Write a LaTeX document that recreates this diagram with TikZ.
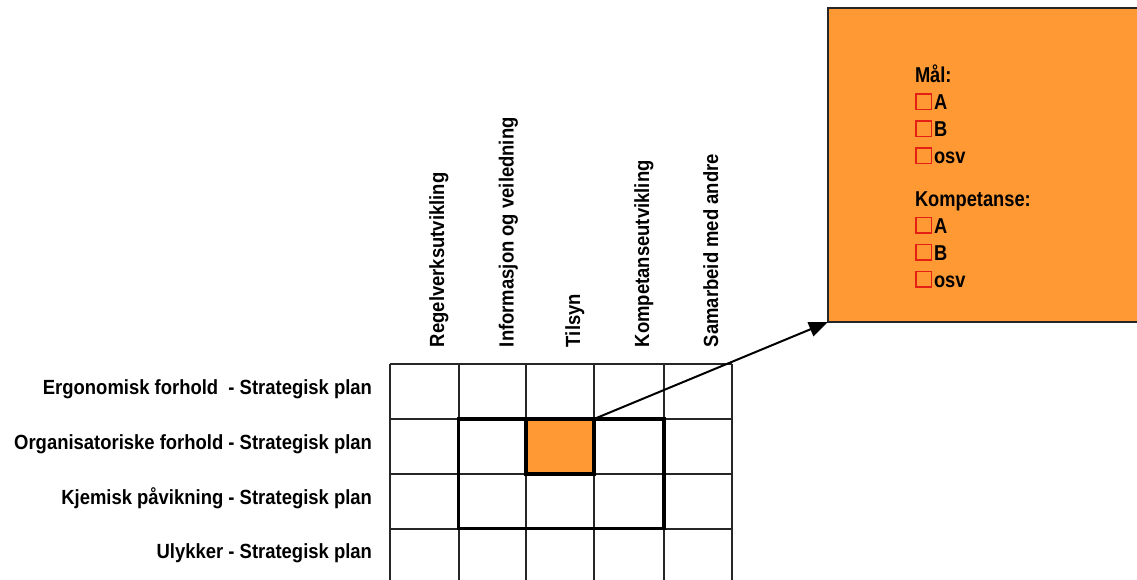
\documentclass[tikz,border=0pt]{standalone}
\usepackage{fontspec}
\setmainfont{Liberation Sans}[FakeStretch=0.9]
\newfontfamily\itemfont{Liberation Sans}[FakeStretch=0.85]
\usetikzlibrary{arrows.meta}
\definecolor{planorange}{RGB}{255,153,51}
\definecolor{tickred}{RGB}{228,32,20}

\begin{document}
\begin{tikzpicture}[x=1pt,y=-1pt,
  lbl/.style={font=\fontsize{20.5}{24}\selectfont\bfseries, inner sep=0pt, outer sep=0pt},
  rowlbl/.style={lbl, anchor=base east},
  collbl/.style={lbl, rotate=90, anchor=base west},
  itemlbl/.style={font=\itemfont\fontsize{21.5}{24}\selectfont\bfseries, inner sep=0pt, outer sep=0pt, anchor=base west},
  gridline/.style={line width=2pt, black!85},
  blockline/.style={line width=3.2pt, black},
  hicell/.style={draw=black, line width=3.2pt, fill=planorange, inner sep=0pt, outer sep=0pt,
                 minimum width=68pt, minimum height=55pt, anchor=north west},
  planbox/.style={draw=black!85, line width=1.8pt, fill=planorange, inner sep=0pt, outer sep=0pt,
                  minimum width=330pt, minimum height=314pt, anchor=north west},
  tickbox/.style={draw=tickred, line width=1.9pt, inner sep=0pt, outer sep=0pt,
                  minimum width=15.5pt, minimum height=15.5pt, anchor=south west},
  link/.style={line width=2pt, -{Triangle[length=19pt,width=15pt]}}
]
\useasboundingbox (0,0) rectangle (1137,579);
\clip (0,0) rectangle (1137,579);

% matrix grid
\foreach \x in {390,458.5,526,594,664,732}
  \draw[gridline] (\x,364) -- (\x,585);
\foreach \y in {364,419,474,528.5,583}
  \draw[gridline] (390,\y) -- (732,\y);

% emphasised block and highlighted cell
\draw[blockline] (458.5,419) rectangle (664,528.5);
\node[hicell] (cell) at (526,419) {};

% row labels
\node[rowlbl] (r1) at (372,394) {Ergonomisk forhold\ \ - Strategisk plan};
\node[rowlbl] (r2) at (372,449) {Organisatoriske forhold - Strategisk plan};
\node[rowlbl] (r3) at (372,504) {Kjemisk påvikning - Strategisk plan};
\node[rowlbl] (r4) at (372,558) {Ulykker - Strategisk plan};

% column labels
\node[collbl] (c1) at (444,347) {Regelverksutvikling};
\node[collbl] (c2) at (513.5,347) {Informasjon og veiledning};
\node[collbl] (c3) at (580,347) {Tilsyn};
\node[collbl] (c4) at (649,347) {Kompetanseutvikling};
\node[collbl] (c5) at (718,347) {Samarbeid med andre};

% detail box
\node[planbox] (plan) at (828,8) {};
\draw[link] (cell.north east) -- (plan.south west);

\node[itemlbl] (mal) at (915,82.5) {Mål:};
\node[tickbox] (m1) at (916,109.5) {};
\node[itemlbl] (m1t) at (934,109.5) {A};
\node[tickbox] (m2) at (916,136.5) {};
\node[itemlbl] (m2t) at (934,136.5) {B};
\node[tickbox] (m3) at (916,163.5) {};
\node[itemlbl] (m3t) at (934,163.5) {osv};

\node[itemlbl] (komp) at (915,206) {Kompetanse:};
\node[tickbox] (k1) at (916,233) {};
\node[itemlbl] (k1t) at (934,233) {A};
\node[tickbox] (k2) at (916,260) {};
\node[itemlbl] (k2t) at (934,260) {B};
\node[tickbox] (k3) at (916,287) {};
\node[itemlbl] (k3t) at (934,287) {osv};
\end{tikzpicture}
\end{document}
